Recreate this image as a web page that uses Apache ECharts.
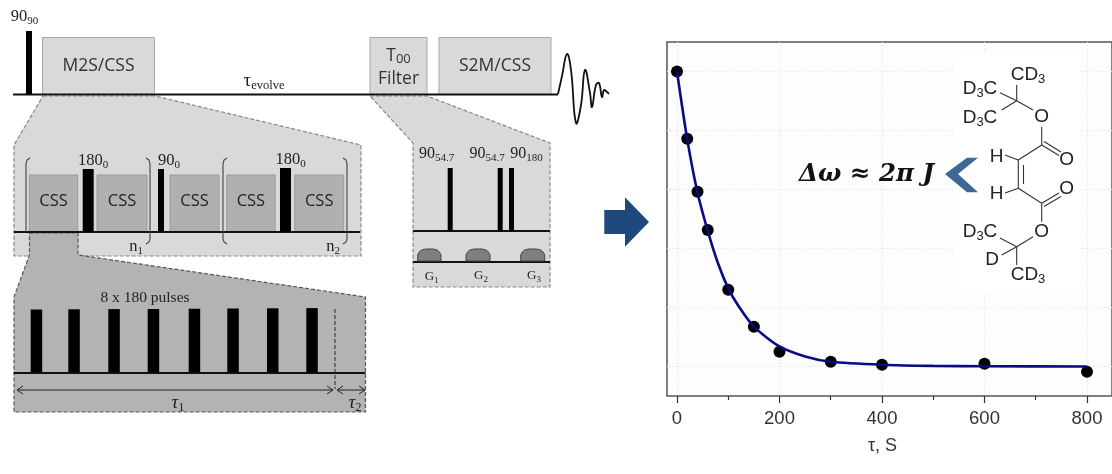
<!DOCTYPE html>
<html><head><meta charset="utf-8">
<style>html,body{margin:0;padding:0;background:#fff}#c{width:1112px;height:474px}</style>
<script src="https://cdn.jsdelivr.net/npm/echarts@6/dist/echarts.min.js"></script>
</head><body><div id="c"></div>
<script>
// Measured data
const tauValues = [0, 20, 40, 60, 100, 150, 200, 300, 400, 600, 800];
const signalValues = [1.0, 0.772, 0.592, 0.463, 0.26, 0.135, 0.05, 0.016, 0.006, 0.009, -0.018];
// Fitted curve
const fitTau = [0, 20, 40, 60, 80, 100, 120, 150, 200, 250, 300, 400, 500, 600, 800];
const fitSignal = [1.0, 0.77, 0.59, 0.46, 0.35, 0.265, 0.205, 0.135, 0.068, 0.034, 0.016, 0.006, 0.002, 0.001, 0];
const majorTicks = [0, 200, 400, 600, 800];
const minorTicks = [100, 300, 500, 700];
const yGridValues = [0, 0.2, 0.4, 0.6, 0.8, 1.0];
const axisName = 'τ, S';

const SANS = '"Open Sans", sans-serif', SERIF = '"Liberation Serif", serif', HELV = '"Liberation Sans", Arial, sans-serif';
const g = [];
const Z = 100;
function rect(x, y, w, h, fill, stroke, lw) {
  g.push({type:'rect', z:Z, shape:{x, y, width:w, height:h}, style:{fill, stroke:stroke||null, lineWidth:lw||0}, silent:true});
}
function seg(x1, y1, x2, y2, color, lw, dash) {
  g.push({type:'line', z:Z, shape:{x1, y1, x2, y2}, style:{stroke:color||'#111', lineWidth:lw||1.5, lineDash:dash||null}, silent:true});
}
function poly(points, fill, stroke, lw, dash) {
  g.push({type:'polygon', z:Z, shape:{points}, style:{fill, stroke:stroke||null, lineWidth:lw||0, lineDash:dash||null}, silent:true});
}
function pline(points, color, lw, dash, smooth) {
  g.push({type:'polyline', z:Z, shape:{points, smooth:smooth||0}, style:{fill:null, stroke:color, lineWidth:lw, lineDash:dash||null}, silent:true});
}
function txt(s, x, y, size, font, color, extra) {
  g.push({type:'text', z:Z+1, x, y, silent:true, style:Object.assign({text:s, fontSize:size, fontFamily:font, fill:color||'#222', align:'center', verticalAlign:'middle'}, extra||{})});
}
function subTxt(main, sub, x, y, size, subSize, font, color, style) {
  g.push({type:'text', z:Z+1, x, y, silent:true, style:{
    text:'{m|'+main+'}{s|'+sub+'}', align:'center', verticalAlign:'middle',
    rich:{
      m:{fontSize:size, fontFamily:font, fill:color||'#222', fontStyle:style||'normal', lineHeight:size+3, verticalAlign:'middle'},
      s:{fontSize:subSize, fontFamily:font, fill:color||'#222', fontStyle:'normal', lineHeight:size+3, verticalAlign:'bottom', padding:[5,0,0,0]}
    }}});
}
function dashedDiagram(points, fill, dashColor) { poly(points, fill, dashColor, 1.2, [4,2]); }

// ---- Top sequence
subTxt('90','90', 24.5, 17, 16.5, 11, SERIF, '#222');
rect(42.5, 37.5, 112, 57, '#d9d9d9', '#a8a8a8', 1);
rect(370, 37.5, 57, 57, '#d9d9d9', '#a8a8a8', 1);
rect(439, 37.5, 112, 57, '#d9d9d9', '#a8a8a8', 1);
// Expansion of the first and second block
dashedDiagram([[43,96],[155,96],[361,145],[361,256],[14,256],[14,145]], '#d9d9d9', '#888');
dashedDiagram([[370,96],[427,96],[550,143],[550,287],[413,287],[413,143]], '#d9d9d9', '#888');
dashedDiagram([[29.5,233],[78,233],[78,255],[365.5,297],[365.5,412],[14,412],[14,297],[29.5,255]], '#b3b3b3', '#555');
seg(13, 94.5, 558, 94.5, '#111', 2);
rect(26, 31, 6, 63, '#000');
txt('M2S/CSS', 98.5, 66, 17.5, SANS, '#333');
subTxt('T','00', 398.5, 56, 17.5, 13, SANS, '#333');
txt('Filter', 398.5, 79, 17.5, SANS, '#333');
txt('S2M/CSS', 495, 66, 17.5, SANS, '#333');
subTxt('τ','evolve', 264, 81, 19, 12.5, SERIF, '#222');
// FID
pline([[558,94],[562,76],[567,54],[571,70],[576,123],[581,105],[585,70],[590,93],[592,107],[596,85],[599,83],[602,97],[604,90],[607,92],[609,94]], '#111', 1.8, null, 0.45);

// ---- Middle block
[[29.3,48.4],[97,50],[170,49],[226.7,48.4],[294.7,49]].forEach(([x,w]) => {
  rect(x, 175, w, 57, '#b0b0b0', '#9a9a9a', 1);
  txt('CSS', x + w/2, 201.5, 16.5, SANS, '#222');
});
seg(14, 232, 360, 232, '#111', 2);
rect(82.7, 169, 11, 63, '#000');
rect(158, 169, 6, 63, '#000');
rect(280, 168, 11, 64, '#000');
subTxt('180','0', 93, 161, 16.5, 11, SERIF, '#222');
subTxt('90','0', 169, 161, 16.5, 11, SERIF, '#222');
subTxt('180','0', 290.5, 160, 16.5, 11, SERIF, '#222');
pline([[30,158],[27,160],[26,164],[26,232]], '#444', 1.1);
pline([[146,158],[149,160],[150,164],[150,239],[149,242],[146,244]], '#444', 1.1);
pline([[227,158],[224,160],[223,164],[223,239],[224,242],[227,244]], '#444', 1.1);
pline([[343,158],[346,160],[347,164],[347,239],[346,242],[343,244]], '#444', 1.1);
subTxt('n','1', 136, 247, 16.5, 11, SERIF, '#222');
subTxt('n','2', 333, 247, 16.5, 11, SERIF, '#222');

// ---- Lower block
txt('8 x 180 pulses', 145, 298, 15.5, SERIF, '#222');
[30.7,68.3,108.3,147.7,188.7,227.3,267,306.3].forEach((x,i) => rect(x, 309.5 - i*0.2, 11.5, 63.5 + i*0.2, '#000'));
seg(14, 373, 365.5, 373, '#111', 1.8);
seg(335, 309, 335, 389, '#333', 1.1, [4,2]);
seg(17, 390, 333, 390, '#222', 1);
pline([[23,386],[17,390],[23,394]], '#222', 1);
pline([[327,386],[333,390],[327,394]], '#222', 1);
seg(337, 390, 365, 390, '#222', 1);
pline([[343,386],[337,390],[343,394]], '#222', 1);
pline([[359,386],[365,390],[359,394]], '#222', 1);
subTxt('τ','1', 178, 403, 19, 12.5, SERIF, '#222', 'italic');
subTxt('τ','2', 355, 403, 19, 12.5, SERIF, '#222', 'italic');

// ---- T00 filter block
seg(413, 231, 550, 231, '#111', 1.8);
seg(413, 262, 550, 262, '#111', 1.8);
rect(447.7, 168, 5, 63, '#000');
rect(497.7, 168, 5, 63, '#000');
rect(509, 168, 5, 63, '#000');
subTxt('90','54.7', 436.5, 154, 16, 11, SERIF, '#222');
subTxt('90','54.7', 487, 154, 16, 11, SERIF, '#222');
subTxt('90','180', 526.5, 154, 16, 11, SERIF, '#222');
[[417.7,23.3],[466,24],[520.7,24]].forEach(([x,w]) => {
  poly([[x,261],[x,255],[x+1.5,252],[x+4,250],[x+8,249],[x+w-8,249],[x+w-4,250],[x+w-1.5,252],[x+w,255],[x+w,261]], '#7f7f7f', '#444', 1);
});
subTxt('G','1', 431.7, 277, 13, 9, SERIF, '#222');
subTxt('G','2', 481, 276, 13, 9, SERIF, '#222');
subTxt('G','3', 534, 276, 13, 9, SERIF, '#222');

// ---- Arrow
poly([[604.3,210],[625,210],[625,197.3],[649,222],[625,246.7],[625,234],[604.3,234]], '#1f497d');

// ---- Molecule patch and annotation
rect(955, 52, 125, 241, '#fff');
poly([[945,174],[967,157.7],[978,157.7],[958,174],[978,192.3],[967,192.3]], '#3f6794');
g.push({type:'text', z:Z+1, x:866.5, y:175, silent:true, style:{text:'Δω ≈ 2π J', fontSize:24.5, fontWeight:'bold', fontStyle:'italic', fontFamily:'"DejaVu Serif", serif', fill:'#111', align:'center', verticalAlign:'middle'}});
const B = '#333';
[[1016.7,85,1016.7,100.7],[1000,92.7,1016.7,100.7],[1001.7,110,1016.7,100.7],[1016.7,100.7,1033,110],
 [1041.7,126.7,1041.7,145],[1041.7,145,1018.3,160],[1005,155,1018.3,160],
 [1018.3,160,1018.3,188.3],[1023.5,165,1023.5,184],[1005,193,1018.3,188.3],[1018.3,188.3,1041.7,203.3],
 [1041.7,203.3,1041.7,221.7],[1033,236.7,1016.7,246.7],[1000,238,1016.7,246.7],[1001.7,255,1016.7,246.7],[1016.7,246.7,1016.7,265],
 [1041.7,145,1059,155.5],[1044,141.5,1061,152],
 [1041.7,203.3,1059,193],[1044,206.5,1061,196.5]
].forEach(b => seg(b[0],b[1],b[2],b[3],B,1.1));
const chem = (main, sub, x, y, tail) => {
  g.push({type:'text', z:Z+1, x, y, silent:true, style:{
    text:'{m|'+main+'}{s|'+sub+'}'+(tail?'{m|'+tail+'}':''), align:'center', verticalAlign:'middle',
    rich:{m:{fontSize:19, fontFamily:HELV, fill:'#222', lineHeight:22},
          s:{fontSize:13, fontFamily:HELV, fill:'#222', lineHeight:22, verticalAlign:'bottom', padding:[6,0,0,0]}}}});
};
chem('CD','3', 1028, 75);
chem('D','3', 980, 89, 'C');
chem('D','3', 980, 118, 'C');
chem('D','3', 980, 232, 'C');
chem('CD','3', 1028, 275);
[['O',1041.7,117],['O',1066.7,159.5],['H',996.7,157],['H',996.7,193.5],['O',1066.7,189],['O',1041.7,231.7],['D',992,260]].forEach(a => txt(a[0], a[1], a[2], 19, HELV, '#222'));

const chart = echarts.init(document.getElementById('c'), null, {renderer:'canvas'});
const gridLine = {show:true, lineStyle:{color:'#e2e2e2', type:[1,2], width:1}};
chart.setOption({
  animation:false,
  backgroundColor:'#ffffff',
  grid:{left:667, top:42, width:445, height:354, containLabel:false, show:true, backgroundColor:'#fdfdfd', borderColor:'#555', borderWidth:1.5},
  xAxis:[{
    type:'value', min:-19.5, max:848.8, position:'bottom',
    axisLine:{show:false, onZero:false},
    axisTick:{show:true, length:7, customValues:majorTicks, lineStyle:{color:'#333', width:1.2}},
    axisLabel:{show:true, customValues:majorTicks, fontSize:18.5, fontFamily:HELV, color:'#333', margin:13, hideOverlap:false},
    splitLine:gridLine,
    name:axisName, nameLocation:'middle', nameGap:41.5, nameTextStyle:{fontSize:18, fontFamily:HELV, color:'#333', padding:[0,14,0,0]}
  },{
    type:'value', min:-19.5, max:848.8, position:'bottom',
    axisLine:{show:false, onZero:false},
    axisTick:{show:true, length:4, customValues:minorTicks, lineStyle:{color:'#333', width:1.2}},
    axisLabel:{show:false}, splitLine:{show:false}
  }],
  yAxis:{
    type:'value', min:-0.1, max:1.1,
    axisLine:{show:false},
    axisTick:{show:false, customValues:yGridValues},
    axisLabel:{show:false, customValues:yGridValues},
    splitLine:gridLine
  },
  series:[
    {type:'scatter', name:'measured', z:3, symbolSize:12, itemStyle:{color:'#000', opacity:1}, clip:false,
      data:tauValues.map((t,i)=>[t,signalValues[i]])},
    {type:'line', name:'fit', z:4, showSymbol:false, symbol:'none', smooth:0.25, clip:false,
      lineStyle:{color:'#0a0a82', width:2.6},
      data:fitTau.map((t,i)=>[t,fitSignal[i]])}
  ],
  graphic:{elements:g}
});
</script></body></html>
